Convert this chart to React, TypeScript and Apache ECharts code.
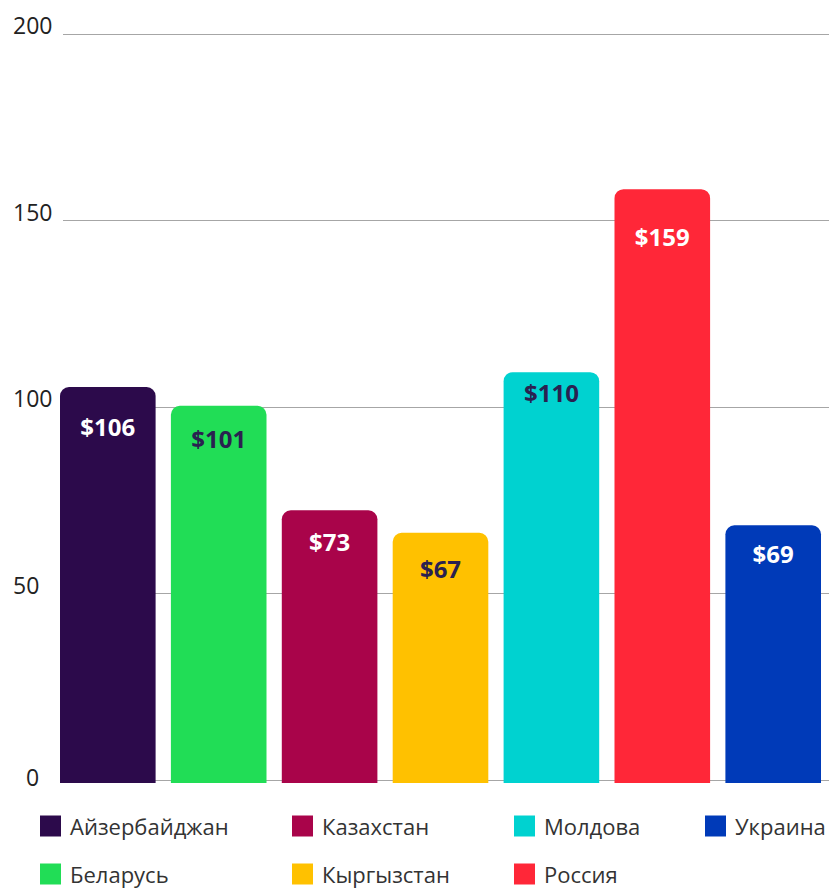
import React, { useEffect, useRef } from "react";
import * as echarts from "echarts";

const countries = ["Айзербайджан", "Беларусь", "Казахстан", "Кыргызстан", "Молдова", "Россия", "Украина"];
const values = [106, 101, 73, 67, 110, 159, 69];
const yTicks = [0, 50, 100, 150, 200];

const barColors = ["#2c0a4b", "#21dd56", "#a9044a", "#ffc100", "#00d2d0", "#ff2738", "#003ab8"];
const labelColors = ["#ffffff", "#2a2150", "#ffffff", "#2a2150", "#2a2150", "#ffffff", "#ffffff"];
const labelOffsets = [39, 33, 31, 36, 20, 47, 28];
const legendColumns = [[0, 1], [2, 3], [4, 5], [6]];
const legendLefts = [40, 292, 514, 705];

const FONT = "'Open Sans', 'Noto Sans', sans-serif";

export default function App() {
  const ref = useRef<HTMLDivElement>(null);
  useEffect(() => {
    if (!ref.current) return;
    const chart = echarts.init(ref.current, null, { renderer: "svg" });
    const option: any = {
      animation: false,
      backgroundColor: "#ffffff",
      textStyle: { fontFamily: FONT },
      grid: [
        { left: 63, right: 0, top: 34, bottom: 108 },
        { left: 60, right: 8, top: 36, bottom: 105 },
      ],
      xAxis: [
        { type: "category", gridIndex: 0, data: [""], show: false },
        { type: "category", gridIndex: 1, data: [""], show: false },
      ],
      yAxis: [
        {
          type: "value",
          gridIndex: 0,
          min: yTicks[0],
          max: yTicks[yTicks.length - 1],
          interval: 50,
          axisLine: { show: false },
          axisTick: { show: false },
          splitLine: { show: true, lineStyle: { color: "#a6a6a6", width: 1 } },
          axisLabel: {
            show: true,
            align: "left",
            margin: 50,
            formatter: (v: number) => (v === 0 ? "{z|0}" : "{n|" + v + "}"),
            rich: {
              n: { fontSize: 23, fontFamily: FONT, color: "#222222", padding: [0, 0, 18, 0] },
              z: { fontSize: 23, fontFamily: FONT, color: "#222222", padding: [0, 0, 6, 13] },
            },
          },
        },
        {
          type: "value",
          gridIndex: 1,
          min: 0,
          max: 200,
          show: false,
          splitLine: { show: false },
        },
      ],
      legend: legendColumns.map((col, i) => ({
        orient: "vertical",
        left: legendLefts[i],
        top: 815,
        height: 73,
        itemWidth: 21,
        itemHeight: 21,
        itemGap: 26,
        icon: "rect",
        selectedMode: false,
        padding: 0,
        itemStyle: { borderWidth: 0 },
        textStyle: {
          fontSize: 22,
          lineHeight: 22,
          fontFamily: FONT,
          color: "#333333",
          padding: [0, 0, 0, 4],
        },
        data: col.map((k) => countries[k]),
      })),
      series: countries.map((name, i) => ({
        name,
        type: "bar",
        xAxisIndex: 1,
        yAxisIndex: 1,
        barGap: "16%",
        barCategoryGap: "0%",
        data: [values[i]],
        itemStyle: { color: barColors[i], borderRadius: [9, 9, 0, 0] },
        z: 5,
        label: {
          show: true,
          position: ["50%", labelOffsets[i]],
          align: "center",
          verticalAlign: "middle",
          formatter: "${c}",
          fontSize: 24,
          fontWeight: "bold",
          fontFamily: FONT,
          color: labelColors[i],
        },
      })),
    };
    chart.setOption(option);
    return () => chart.dispose();
  }, []);
  return (
    <div
      ref={ref}
      style={{ position: "fixed", left: 0, top: 0, width: 829, height: 888 }}
    />
  );
}
